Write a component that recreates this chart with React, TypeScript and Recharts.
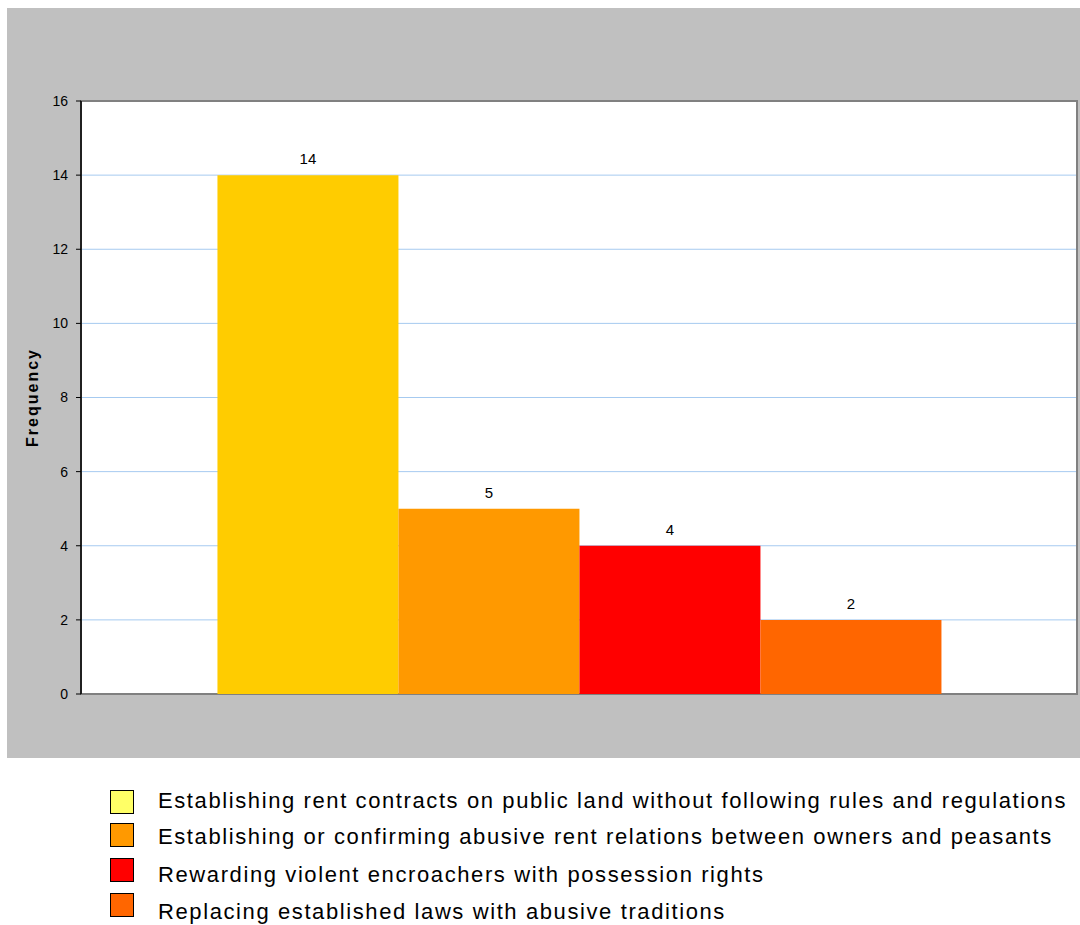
import React from 'react'
import {
  BarChart,
  Bar,
  XAxis,
  YAxis,
  CartesianGrid,
  LabelList,
  ReferenceArea
} from 'recharts'

// Frequency per practice type
const seriesKeys = ['rentContracts', 'abusiveRent', 'violentEncroachers', 'abusiveTraditions']
const seriesNames = [
  'Establishing rent contracts on public land without following rules and regulations',
  'Establishing or confirming abusive rent relations between owners and peasants',
  'Rewarding violent encroachers with possession rights',
  'Replacing established laws with abusive traditions'
]
const seriesValues = [14, 5, 4, 2]
const barColors = ['#FFCC00', '#FF9900', '#FF0000', '#FF6600']
const legendColors = ['#FFFF66', '#FF9900', '#FF0000', '#FF6600']
const yTicks = [0, 2, 4, 6, 8, 10, 12, 14, 16]

const row: Record<string, number | string> = { name: '' }
seriesKeys.forEach((key, i) => {
  row[key] = seriesValues[i]
})
const data = [row]

const font = 'Arial, "Liberation Sans", sans-serif'

// legend rows, page coordinates
const swatchTops = [790, 823, 858, 893]
const textCenters = [801, 837, 875, 912]

const App: React.FC = () => {
  return (
    <div style={{ position: 'relative', width: 1080, height: 925, fontFamily: font, overflow: 'hidden' }}>
      <style>{'html, body { margin: 0; padding: 0; overflow: hidden; }'}</style>
      <div
        style={{
          position: 'absolute',
          left: 7,
          top: 8,
          width: 1073,
          height: 750,
          background: '#C0C0C0'
        }}
      >
        <BarChart
          width={1073}
          height={750}
          data={data}
          margin={{ top: 93, right: 3, left: 0, bottom: 64 }}
          barCategoryGap="13.7%"
          barGap={0}
        >
          <CartesianGrid
            vertical={false}
            stroke="#A6CAF0"
            fill="#FFFFFF"
            fillOpacity={1}
          />
          <XAxis dataKey="name" hide />
          <YAxis
            width={74}
            domain={[0, 16]}
            ticks={yTicks}
            interval={0}
            axisLine={{ stroke: '#000', strokeWidth: 1.5 }}
            tickLine={{ stroke: '#000' }}
            tickSize={5}
            tickMargin={8}
            tick={{ fill: '#000', fontSize: 14, fontFamily: font }}
            label={{
              value: 'Frequency',
              angle: -90,
              position: 'insideLeft',
              offset: 25,
              style: {
                fill: '#000',
                fontSize: 16,
                fontWeight: 'bold',
                fontFamily: font,
                letterSpacing: 2,
                textAnchor: 'middle'
              }
            }}
          />
          <ReferenceArea y1={0} y2={16} fill="none" stroke="#808080" strokeWidth={2} />
          {seriesKeys.map((key, i) => (
            <Bar key={key} dataKey={key} name={seriesNames[i]} fill={barColors[i]} isAnimationActive={false}>
              <LabelList
                dataKey={key}
                position="top"
                offset={11}
                style={{ fill: '#000', fontSize: 15, fontFamily: font }}
              />
            </Bar>
          ))}
        </BarChart>
      </div>
      {seriesNames.map((name, i) => (
        <React.Fragment key={name}>
          <div
            style={{
              position: 'absolute',
              left: 110,
              top: swatchTops[i],
              width: 22,
              height: 22,
              background: legendColors[i],
              border: '1.5px solid #000'
            }}
          />
          <div
            style={{
              position: 'absolute',
              left: 158,
              top: textCenters[i] - 14,
              height: 28,
              lineHeight: '28px',
              fontSize: 22,
              letterSpacing: 1.6,
              color: '#000',
              whiteSpace: 'nowrap'
            }}
          >
            {name}
          </div>
        </React.Fragment>
      ))}
    </div>
  )
}

export default App
